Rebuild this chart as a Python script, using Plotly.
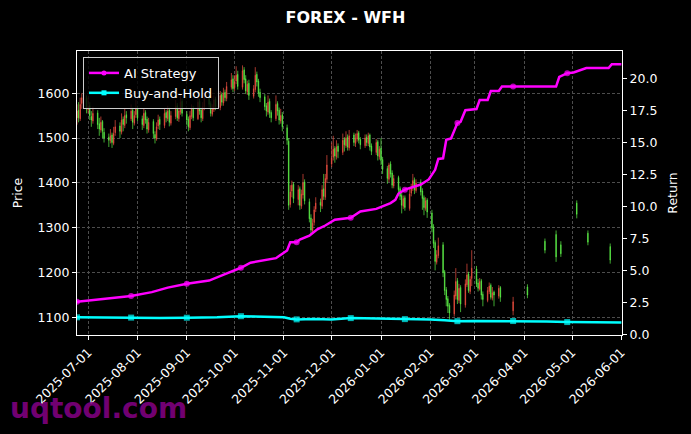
import pandas as pd
import plotly.graph_objects as go

# ---------------- data ----------------
dense_start = "2025-06-24"   # first trading day of the dense (business-day) candle block

open_dense = [
    1545, 1562, 1543, 1577, 1588,
    1563, 1572, 1548, 1538, 1556, 1532, 1518, 1537, 1513, 1502, 1494, 1507, 1488, 1512, 1527, 1513, 1542, 1528, 1552, 1543, 1562, 1533, 1552,
    1567, 1543, 1528, 1557, 1542, 1518, 1537, 1508, 1498, 1527, 1542, 1528, 1557, 1543, 1562, 1533, 1548, 1572, 1543, 1558, 1582,
    1553, 1542, 1523, 1548, 1567, 1543, 1582, 1562, 1543, 1568, 1592, 1577, 1553, 1563, 1587, 1568, 1597, 1578, 1602, 1588, 1613, 1632,
    1612, 1627, 1642, 1613, 1652, 1632, 1603, 1622, 1593, 1608, 1642, 1627, 1602, 1592, 1572, 1558, 1582, 1557, 1543, 1577, 1562, 1538, 1552,
    1523, 1493, 1352, 1382, 1397, 1363, 1387, 1348, 1373, 1402, 1358, 1322, 1293, 1312, 1342, 1357, 1348, 1387, 1368, 1408,
    1442, 1457, 1477, 1458, 1482, 1468, 1497, 1483, 1502, 1478, 1507, 1488, 1498, 1512, 1497, 1483, 1502, 1488, 1507, 1482, 1468, 1492, 1458,
    1477, 1452, 1432, 1408, 1442, 1422, 1393, 1412, 1387, 1372, 1348, 1367, 1343, 1377, 1388, 1407, 1383, 1402, 1382, 1367, 1343, 1362,
    1333, 1302, 1267, 1223, 1238, 1262, 1202, 1162, 1142, 1127, 1108, 1148, 1182, 1138, 1167, 1128, 1173, 1197, 1158, 1187,
    1208, 1177, 1163, 1182, 1152, 1138, 1158, 1172, 1143, 1157, 1148, 1167,
]
high_dense = [
    1575, 1580, 1590, 1600, 1595,
    1590, 1580, 1560, 1570, 1562, 1545, 1548, 1540, 1522, 1510, 1520, 1512, 1525, 1540, 1535, 1555, 1548, 1565, 1560, 1575, 1568, 1560, 1585,
    1572, 1550, 1565, 1562, 1548, 1545, 1542, 1515, 1535, 1552, 1548, 1565, 1562, 1572, 1568, 1560, 1585, 1578, 1568, 1598, 1588,
    1560, 1548, 1560, 1575, 1572, 1590, 1588, 1568, 1580, 1600, 1598, 1582, 1575, 1595, 1592, 1605, 1602, 1612, 1608, 1625, 1645, 1640,
    1640, 1660, 1650, 1662, 1658, 1640, 1628, 1630, 1618, 1658, 1648, 1632, 1610, 1598, 1578, 1595, 1588, 1562, 1595, 1582, 1568, 1565, 1558,
    1530, 1500, 1395, 1405, 1402, 1395, 1392, 1385, 1420, 1408, 1365, 1330, 1320, 1348, 1368, 1365, 1395, 1420, 1420, 1462,
    1490, 1505, 1482, 1495, 1488, 1510, 1502, 1515, 1508, 1518, 1512, 1510, 1518, 1516, 1502, 1508, 1508, 1512, 1510, 1488, 1498, 1496, 1482,
    1500, 1458, 1438, 1445, 1448, 1428, 1418, 1416, 1392, 1378, 1372, 1372, 1390, 1398, 1420, 1412, 1408, 1408, 1388, 1372, 1368, 1366,
    1340, 1308, 1272, 1250, 1278, 1268, 1206, 1168, 1148, 1132, 1160, 1210, 1188, 1175, 1172, 1185, 1220, 1202, 1192, 1250,
    1215, 1186, 1188, 1186, 1158, 1168, 1178, 1176, 1168, 1160, 1172, 1170,
]
low_dense = [
    1530, 1535, 1538, 1565, 1555,
    1555, 1540, 1525, 1532, 1520, 1505, 1512, 1500, 1490, 1480, 1488, 1478, 1484, 1505, 1500, 1508, 1515, 1522, 1532, 1538, 1520, 1528, 1545,
    1538, 1518, 1522, 1532, 1510, 1512, 1500, 1488, 1494, 1520, 1518, 1522, 1535, 1538, 1526, 1528, 1542, 1538, 1536, 1552, 1548,
    1528, 1515, 1518, 1542, 1538, 1540, 1552, 1535, 1538, 1562, 1568, 1548, 1548, 1558, 1562, 1562, 1572, 1572, 1582, 1582, 1608, 1602,
    1605, 1620, 1608, 1608, 1622, 1598, 1596, 1585, 1588, 1602, 1615, 1592, 1580, 1562, 1548, 1552, 1545, 1535, 1538, 1550, 1530, 1532, 1515,
    1485, 1340, 1345, 1368, 1355, 1350, 1340, 1342, 1365, 1352, 1312, 1285, 1288, 1305, 1335, 1335, 1342, 1362, 1362, 1400,
    1435, 1450, 1445, 1452, 1455, 1462, 1470, 1478, 1472, 1472, 1482, 1480, 1492, 1488, 1475, 1478, 1482, 1482, 1472, 1462, 1462, 1450, 1452,
    1440, 1420, 1398, 1402, 1412, 1388, 1388, 1378, 1362, 1332, 1342, 1338, 1338, 1370, 1382, 1375, 1378, 1372, 1340, 1328, 1338, 1322,
    1290, 1255, 1205, 1218, 1232, 1190, 1150, 1125, 1110, 1095, 1102, 1140, 1130, 1132, 1112, 1122, 1168, 1155, 1152, 1170,
    1168, 1158, 1160, 1140, 1125, 1134, 1152, 1140, 1138, 1125, 1142, 1135,
]
close_dense = [
    1560, 1545, 1575, 1590, 1565,
    1570, 1550, 1540, 1555, 1530, 1520, 1535, 1515, 1500, 1495, 1505, 1490, 1510, 1525, 1515, 1540, 1530, 1550, 1545, 1560, 1535, 1550, 1565,
    1545, 1530, 1555, 1540, 1520, 1535, 1510, 1500, 1525, 1540, 1530, 1555, 1545, 1560, 1535, 1550, 1570, 1545, 1560, 1580, 1555,
    1540, 1525, 1550, 1565, 1545, 1580, 1560, 1545, 1570, 1590, 1575, 1555, 1565, 1585, 1570, 1595, 1580, 1600, 1590, 1615, 1630, 1610,
    1625, 1640, 1615, 1650, 1630, 1605, 1620, 1595, 1610, 1640, 1625, 1600, 1590, 1570, 1560, 1580, 1555, 1545, 1575, 1560, 1540, 1550, 1525,
    1495, 1350, 1380, 1395, 1365, 1385, 1350, 1375, 1400, 1360, 1320, 1295, 1310, 1340, 1355, 1350, 1385, 1370, 1410, 1440,
    1455, 1475, 1460, 1480, 1470, 1495, 1485, 1500, 1480, 1505, 1490, 1500, 1510, 1495, 1485, 1500, 1490, 1505, 1480, 1470, 1490, 1460, 1475,
    1450, 1430, 1410, 1440, 1420, 1395, 1410, 1385, 1370, 1350, 1365, 1345, 1375, 1390, 1405, 1385, 1400, 1380, 1365, 1345, 1360, 1335,
    1300, 1265, 1225, 1240, 1260, 1200, 1160, 1140, 1125, 1110, 1150, 1180, 1140, 1165, 1130, 1175, 1195, 1160, 1185, 1210,
    1175, 1165, 1180, 1150, 1140, 1160, 1170, 1145, 1155, 1150, 1165, 1145,
]

sparse_dates = ["2026-03-25", "2026-04-03", "2026-04-14", "2026-04-21",
                "2026-04-24", "2026-05-04", "2026-05-11", "2026-05-25"]
open_sparse = [1115, 1168, 1270, 1285, 1262, 1355, 1288, 1258]
high_sparse = [1146, 1174, 1276, 1294, 1270, 1361, 1294, 1265]
low_sparse = [1105, 1143, 1243, 1224, 1235, 1321, 1261, 1220]
close_sparse = [1135, 1150, 1250, 1235, 1242, 1330, 1268, 1228]

ai_dates = [
    "2025-06-24", "2025-07-09", "2025-07-28", "2025-08-10", "2025-08-20", "2025-09-01",
    "2025-09-09", "2025-09-15", "2025-09-25", "2025-10-05", "2025-10-11", "2025-10-20",
    "2025-10-27", "2025-10-31", "2025-11-03", "2025-11-05", "2025-11-09", "2025-11-11",
    "2025-11-17", "2025-11-22", "2025-11-27", "2025-12-03", "2025-12-13", "2025-12-19",
    "2025-12-29", "2026-01-07", "2026-01-10", "2026-01-12", "2026-01-16", "2026-01-26",
    "2026-01-31", "2026-02-04", "2026-02-06", "2026-02-09", "2026-02-11", "2026-02-14",
    "2026-02-18", "2026-02-20", "2026-02-23", "2026-03-02", "2026-03-04", "2026-03-09",
    "2026-03-11", "2026-03-16", "2026-03-18", "2026-03-25", "2026-04-21", "2026-04-23",
    "2026-04-28", "2026-05-02", "2026-05-05", "2026-05-10", "2026-05-24", "2026-05-26",
    "2026-06-01",
]
ai_return = [
    2.55, 2.75, 3.00, 3.30, 3.65, 3.95,
    4.10, 4.20, 4.70, 5.20, 5.60, 5.80,
    5.95, 6.30, 6.55, 7.20, 7.20, 7.40,
    7.70, 8.20, 8.50, 8.95, 9.10, 9.60,
    9.80, 10.25, 10.50, 11.00, 11.30, 11.70,
    12.10, 12.85, 13.70, 13.75, 15.20, 15.30,
    16.50, 16.60, 17.50, 17.60, 18.30, 18.30,
    19.00, 19.00, 19.35, 19.35, 19.35, 20.10,
    20.40, 20.45, 20.60, 20.80, 20.80, 21.10,
    21.10,
]

bh_dates = [
    "2025-06-24", "2025-07-12", "2025-07-28", "2025-08-15", "2025-09-01", "2025-09-20",
    "2025-10-05", "2025-10-20", "2025-11-01", "2025-11-05", "2025-11-09", "2025-11-20",
    "2025-12-01", "2025-12-13", "2026-01-01", "2026-01-16", "2026-02-01", "2026-02-10",
    "2026-02-18", "2026-03-01", "2026-03-25", "2026-04-15", "2026-04-28", "2026-05-15",
    "2026-06-01",
]
bh_return = [
    1.33, 1.30, 1.31, 1.28, 1.30, 1.33,
    1.42, 1.36, 1.33, 1.22, 1.17, 1.20,
    1.16, 1.27, 1.24, 1.19, 1.17, 1.10,
    1.03, 1.05, 1.04, 1.00, 0.96, 0.94,
    0.92,
]

marker_dates = ["2025-06-24", "2025-07-28", "2025-09-01", "2025-10-05", "2025-11-09",
                "2025-12-13", "2026-01-16", "2026-02-18", "2026-03-25", "2026-04-28"]

tick_months = ["2025-07-01", "2025-08-01", "2025-09-01", "2025-10-01", "2025-11-01", "2025-12-01",
               "2026-01-01", "2026-02-01", "2026-03-01", "2026-04-01", "2026-05-01", "2026-06-01"]
price_ticks = [1100, 1200, 1300, 1400, 1500, 1600]
return_ticks = [0, 2.5, 5, 7.5, 10, 12.5, 15, 17.5, 20]

# ---------------- build ----------------
assert len(open_dense) == len(high_dense) == len(low_dense) == len(close_dense)
dense_dates = list(pd.bdate_range(dense_start, periods=len(close_dense)).strftime("%Y-%m-%d"))
c_dates = dense_dates + sparse_dates
c_open = open_dense + open_sparse
c_high = high_dense + high_sparse
c_low = low_dense + low_sparse
c_close = close_dense + close_sparse

RED = "#ee4f40"
GREEN = "#5cef48"
MAG = "#ff00ff"
CYAN = "#00ffff"
FONT = "DejaVu Sans"

fig = go.Figure()
fig.add_trace(go.Candlestick(
    x=c_dates, open=c_open, high=c_high, low=c_low, close=c_close,
    increasing=dict(line=dict(color=RED, width=0.7), fillcolor=RED),
    decreasing=dict(line=dict(color=GREEN, width=0.7), fillcolor=GREEN),
    whiskerwidth=0, showlegend=False, hoverinfo="skip", yaxis="y",
))

ai_sizes = [6 if d in marker_dates else 0 for d in ai_dates]
bh_sizes = [6 if d in marker_dates else 0 for d in bh_dates]

fig.add_trace(go.Scatter(
    x=ai_dates, y=ai_return, yaxis="y2", mode="lines+markers", showlegend=False,
    line=dict(color=MAG, width=2.5),
    marker=dict(symbol="circle", size=ai_sizes, color=MAG, line=dict(width=0)),
))
fig.add_trace(go.Scatter(
    x=bh_dates, y=bh_return, yaxis="y2", mode="lines+markers", showlegend=False,
    line=dict(color=CYAN, width=2.5),
    marker=dict(symbol="square", size=bh_sizes, color=CYAN, line=dict(width=0)),
))
# legend entries
fig.add_trace(go.Scatter(x=[None], y=[None], yaxis="y2", mode="lines+markers", name="AI Strategy",
                         line=dict(color=MAG, width=2.5),
                         marker=dict(symbol="circle", size=5, color=MAG, line=dict(width=0))))
fig.add_trace(go.Scatter(x=[None], y=[None], yaxis="y2", mode="lines+markers", name="Buy-and-Hold",
                         line=dict(color=CYAN, width=2.5),
                         marker=dict(symbol="square", size=5, color=CYAN, line=dict(width=0))))

grid = dict(showgrid=True, gridcolor="#4d4d4d", gridwidth=0.8, griddash="3px,2px")
tickfont = dict(family=FONT, size=12.5, color="white")

fig.update_layout(
    width=691, height=434,
    margin=dict(l=77, r=69, t=51, b=99),
    paper_bgcolor="black", plot_bgcolor="black",
    boxgap=0.5,
    font=dict(family=FONT, size=12.5, color="white"),
    title=dict(text="<b>FOREX - WFH</b>", x=0.5, xanchor="center", y=1 - 17 / 434, yanchor="middle",
               font=dict(family=FONT, size=16, color="white")),
    xaxis=dict(
        type="date", range=["2025-06-24", "2026-06-01 10:00"],
        tickvals=tick_months, ticktext=tick_months, tickangle=-45,
        ticks="outside", ticklen=4, tickcolor="white", tickwidth=1,
        showline=True, linecolor="white", linewidth=1.2, mirror=True,
        tickfont=tickfont, rangeslider=dict(visible=False), automargin=False,
        zeroline=False, **grid,
    ),
    yaxis=dict(
        range=[1061, 1694], tickvals=price_ticks,
        ticks="outside", ticklen=4, tickcolor="white", tickwidth=1,
        showline=True, linecolor="white", linewidth=1.2, mirror=True,
        tickfont=tickfont, automargin=False, zeroline=False,
        title=dict(text="Price", font=dict(family=FONT, size=12.5, color="white"), standoff=12),
        **grid,
    ),
    yaxis2=dict(
        overlaying="y", side="right", range=[-0.05, 22.13],
        tickvals=return_ticks, tickformat=".1f",
        ticks="outside", ticklen=4, tickcolor="white", tickwidth=1,
        showline=True, linecolor="white", linewidth=1.2,
        tickfont=tickfont, automargin=False, zeroline=False, showgrid=False,
        title=dict(text="Return", font=dict(family=FONT, size=12.5, color="white"), standoff=11),
    ),
    legend=dict(
        x=0.011, y=0.979, xanchor="left", yanchor="top",
        bgcolor="rgba(0,0,0,0.8)", bordercolor="#cccccc", borderwidth=1,
        font=dict(family=FONT, size=13, color="white"),
        itemwidth=30,
    ),
    annotations=[dict(
        text="<b>uqtool.com</b>", xref="paper", yref="paper",
        x=(8 - 77) / 545, y=(335 - 408) / 284, xanchor="left", yanchor="middle",
        showarrow=False, font=dict(family=FONT, size=28, color="rgba(130,0,130,0.9)"),
    )],
)

fig.write_html("out.html")
